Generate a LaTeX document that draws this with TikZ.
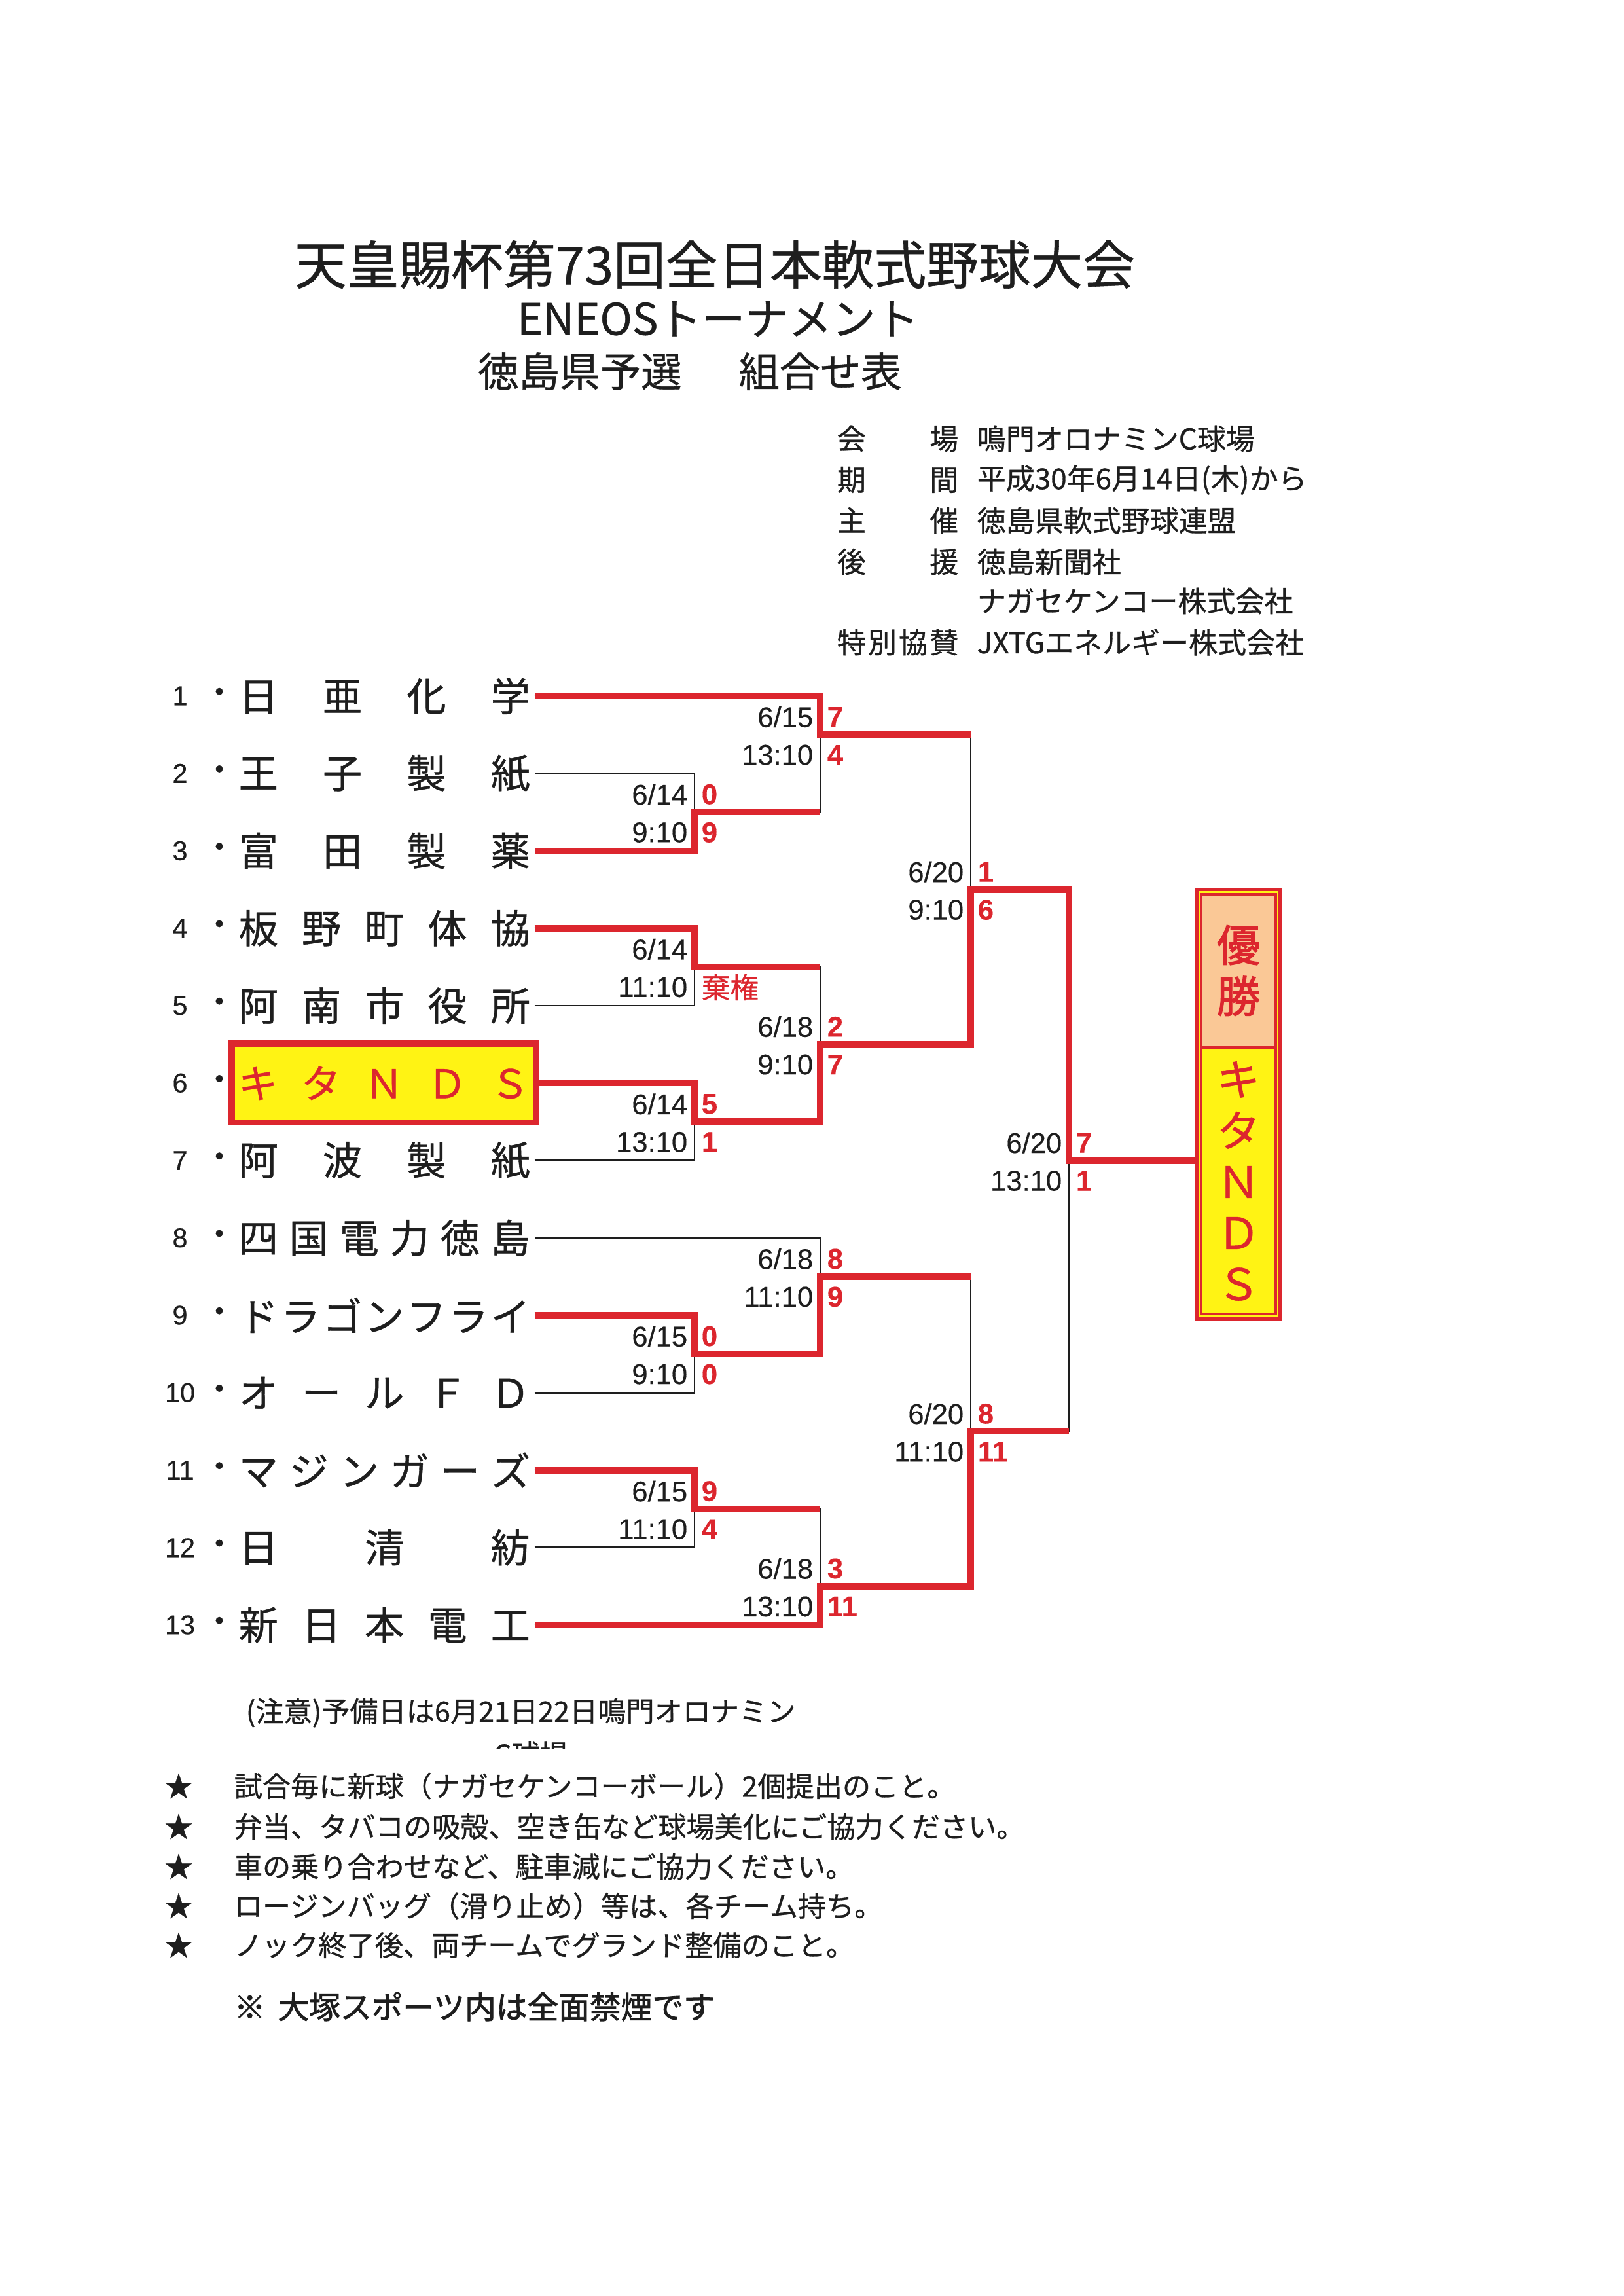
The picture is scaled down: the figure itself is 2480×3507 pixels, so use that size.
\documentclass[tikz,border=0pt]{standalone}
\usepackage{fontspec}
\setmainfont{Noto Sans CJK JP}[FakeBold=0.7]
\newfontfamily\lab{Liberation Sans}[FakeBold=0.3]
\newfontfamily\heavy{Noto Sans CJK JP}[FakeBold=1.8]
\usetikzlibrary{calc}
\definecolor{tred}{RGB}{220,38,46}
\definecolor{tyel}{RGB}{255,243,20}
\definecolor{tpeach}{RGB}{250,200,150}
\definecolor{tink}{RGB}{30,30,30}
\tikzset{>=latex}
\tikzstyle{team}=[anchor=west,inner xsep=0.5mm,inner ysep=0pt,text=tink,font=\fontsize{14.5}{16}\selectfont]
\tikzstyle{num}=[inner sep=0pt,text=tink,font=\lab\fontsize{10}{12}\selectfont]
\tikzstyle{dot}=[inner sep=0pt,text=tink,font=\fontsize{12}{12}\selectfont]
\tikzstyle{lose}=[draw=tink,line width=0.7pt]
\tikzstyle{won}=[draw=tred,line width=2.4pt]
\tikzstyle{date}=[anchor=east,inner sep=0pt,text=tink,font=\lab\fontsize{10.5}{12}\selectfont]
\tikzstyle{score}=[anchor=west,inner sep=0pt,text=tred,font=\lab\bfseries\fontsize{10.5}{12}\selectfont]
\tikzstyle{info}=[anchor=west,inner sep=0pt,text=tink,font=\fontsize{10.6}{12}\selectfont]
\tikzstyle{note}=[anchor=west,inner sep=0pt,text=tink,font=\fontsize{10.4}{12}\selectfont]

\begin{document}
\begin{tikzpicture}[x=0.0084677cm,y=-0.0084677cm]
	\path[fill=white] (0,0) rectangle (2480,3507);
	\def \rowgap {118.25};
	\def \teamw {3.77cm};

	\node[text=tink,font=\fontsize{19.2}{22}\selectfont] (title) at (1092,404) {天皇賜杯第73回全日本軟式野球大会};
	\node[text=tink,font=\fontsize{16}{18}\selectfont] (sub) at (1097,487) {ENEOSトーナメント};
	\node[text=tink,font=\fontsize{15}{17}\selectfont] (sub2) at (1054,567) {徳島県予選\hspace{1.4em}組合せ表};

	\foreach \i/\k/\v/\y in {1/{会\hfill 場}/{鳴門オロナミンC球場}/670, 2/{期\hfill 間}/{平成30年6月14日(木)から}/733, 3/{主\hfill 催}/{徳島県軟式野球連盟}/795, 4/{後\hfill 援}/{徳島新聞社}/858, 5/{}/{ナガセケンコー株式会社}/918, 6/{特\hfill 別\hfill 協\hfill 賛}/{JXTGエネルギー株式会社}/981}
	{
		\node[info] (ik\i) at (1278,\y) {\makebox[1.57cm][l]{\k}};
		\node[info] (iv\i) at (1492,\y) {\v};
	}

	\foreach \i in {1,...,13}
	{
		\node[num] (k\i) at (275,{1063+(\i-1)*\rowgap}) {\i};
		\node[dot] (p\i) at (335,{1063+(\i-1)*\rowgap}) {・};
	}

	\foreach \i/\t in {1/{日\hfill 亜\hfill 化\hfill 学}, 2/{王\hfill 子\hfill 製\hfill 紙}, 3/{富\hfill 田\hfill 製\hfill 薬}, 4/{板\hfill 野\hfill 町\hfill 体\hfill 協}, 5/{阿\hfill 南\hfill 市\hfill 役\hfill 所}, 7/{阿\hfill 波\hfill 製\hfill 紙}, 8/{四\hfill 国\hfill 電\hfill 力\hfill 徳\hfill 島}, 9/{ド\hfill ラ\hfill ゴ\hfill ン\hfill フ\hfill ラ\hfill イ}, 10/{オ\hfill ー\hfill ル\hfill Ｆ\hfill Ｄ}, 11/{マ\hfill ジ\hfill ン\hfill ガ\hfill ー\hfill ズ}, 12/{日\hfill 清\hfill 紡}, 13/{新\hfill 日\hfill 本\hfill 電\hfill 工}}
		\node[team] (n\i) at (358,{1063+(\i-1)*\rowgap}) {\makebox[\teamw][l]{\t}};
	\node[team, draw=tred, line width=2.4pt, fill=tyel, text=tred, inner xsep=0.085cm, minimum height=1.02cm] (n6) at (349,{1063+5*\rowgap}) {\makebox[\teamw][l]{キ\hfill タ\hfill Ｎ\hfill Ｄ\hfill Ｓ}};

	\coordinate (m23) at (1061,1240.4);
	\coordinate (m45) at (1061,1476.9);
	\coordinate (m67) at (1061,1713.4);
	\coordinate (m910) at (1061,2068.1);
	\coordinate (m1112) at (1061,2304.6);
	\coordinate (m1to3) at (1253,1122.1);
	\coordinate (m4to7) at (1253,1595.1);
	\coordinate (m8to10) at (1253,1949.9);
	\coordinate (m11to13) at (1253,2422.9);
	\coordinate (semi1) at (1483,1358.6);
	\coordinate (semi2) at (1483,2186.4);
	\coordinate (final) at (1633,1772.5);

	\draw[lose] (n1.east) -| (m1to3);
	\draw[lose] (m23) -| (m1to3);
	\draw[lose] (n2.east) -| (m23);
	\draw[lose] (n3.east) -| (m23);
	\draw[lose] (n4.east) -| (m45);
	\draw[lose] (n5.east) -| (m45);
	\draw[lose] (n6.east) -| (m67);
	\draw[lose] (n7.east) -| (m67);
	\draw[lose] (m45) -| (m4to7);
	\draw[lose] (m67) -| (m4to7);
	\draw[lose] (m1to3) -| (semi1);
	\draw[lose] (m4to7) -| (semi1);
	\draw[lose] (n8.east) -| (m8to10);
	\draw[lose] (m910) -| (m8to10);
	\draw[lose] (n9.east) -| (m910);
	\draw[lose] (n10.east) -| (m910);
	\draw[lose] (n11.east) -| (m1112);
	\draw[lose] (n12.east) -| (m1112);
	\draw[lose] (m1112) -| (m11to13);
	\draw[lose] (n13.east) -| (m11to13);
	\draw[lose] (m8to10) -| (semi2);
	\draw[lose] (m11to13) -| (semi2);
	\draw[lose] (semi1) -| (final);
	\draw[lose] (semi2) -| (final);

	\node[draw=tred, line width=1.2pt, fill=tyel, minimum width=1.08cm, minimum height=5.55cm, inner sep=0pt] (champ) at (1892,1686.5) {};
	\node[draw=tred, line width=0.9pt, fill=tpeach, minimum width=0.96cm, minimum height=1.97cm, inner sep=0pt, text=tred, align=center, font=\heavy\fontsize{16}{18.8}\selectfont] (yusho) at (1892,1482.5) {優\\勝};
	\node[draw=tred, line width=0.9pt, fill=tyel, minimum width=0.96cm, minimum height=3.44cm, inner sep=0pt, text=tred, align=center, font=\fontsize{16}{18.8}\selectfont] (winner) at (1892,1804) {キ\\タ\\Ｎ\\Ｄ\\Ｓ};

	\draw[won] (n1.east) -| (m1to3) -- (m1to3 -| semi1);
	\draw[won] (n3.east) -| (m23) -- (m23 -| m1to3);
	\draw[won] (n4.east) -| (m45) -- (m45 -| m4to7);
	\draw[won] (n6.east) -| (m67) -| (m4to7) -| (semi1) -| (final) -- (final -| champ.west);
	\draw[won] (n9.east) -| (m910) -| (m8to10) -- (m8to10 -| semi2);
	\draw[won] (n11.east) -| (m1112) -- (m1112 -| m11to13);
	\draw[won] (n13.east) -| (m11to13) -| (semi2) -- (semi2 -| final);

	\foreach \m/\d/\t/\a/\b in {m23/{6/14}/{9:10}/0/9, m45/{6/14}/{11:10}/{}/{\normalfont 棄権}, m67/{6/14}/{13:10}/5/1, m910/{6/15}/{9:10}/0/0, m1112/{6/15}/{11:10}/9/4, m1to3/{6/15}/{13:10}/7/4, m4to7/{6/18}/{9:10}/2/7, m8to10/{6/18}/{11:10}/8/9, m11to13/{6/18}/{13:10}/3/11, semi1/{6/20}/{9:10}/1/6, semi2/{6/20}/{11:10}/8/11, final/{6/20}/{13:10}/7/1}
	{
		\node[date] (d\m) at ($(\m)+(-10,-27)$) {\d};
		\node[date] (t\m) at ($(\m)+(-10,31)$) {\t};
		\node[score] (a\m) at ($(\m)+(10,-27)$) {\a};
		\node[score] (b\m) at ($(\m)+(10,31)$) {\b};
	}

	\node[note] (warn) at (375,2616) {(注意)予備日は6月21日22日鳴門オロナミン};
	\begin{scope}
		\clip (700,2640) rectangle (900,2671);
		\node[note] (warn2) at (753,2680) {C球場};
	\end{scope}

	\foreach \i/\y/\s in {1/2728/{試合毎に新球（ナガセケンコーボール）2個提出のこと。}, 2/2790/{弁当、タバコの吸殻、空き缶など球場美化にご協力ください。}, 3/2851/{車の乗り合わせなど、駐車減にご協力ください。}, 4/2911/{ロージンバッグ（滑り止め）等は、各チーム持ち。}, 5/2971/{ノック終了後、両チームでグランド整備のこと。}}
	{
		\node[note, anchor=center] (star\i) at (273,\y) {★};
		\node[note] (rule\i) at (357,\y) {\s};
	}
	\node[note, font=\heavy\fontsize{11.5}{13}\selectfont] (nosmoke) at (357,3065) {※\hspace{0.4em}大塚スポーツ内は全面禁煙です};

\end{tikzpicture}
\end{document}
